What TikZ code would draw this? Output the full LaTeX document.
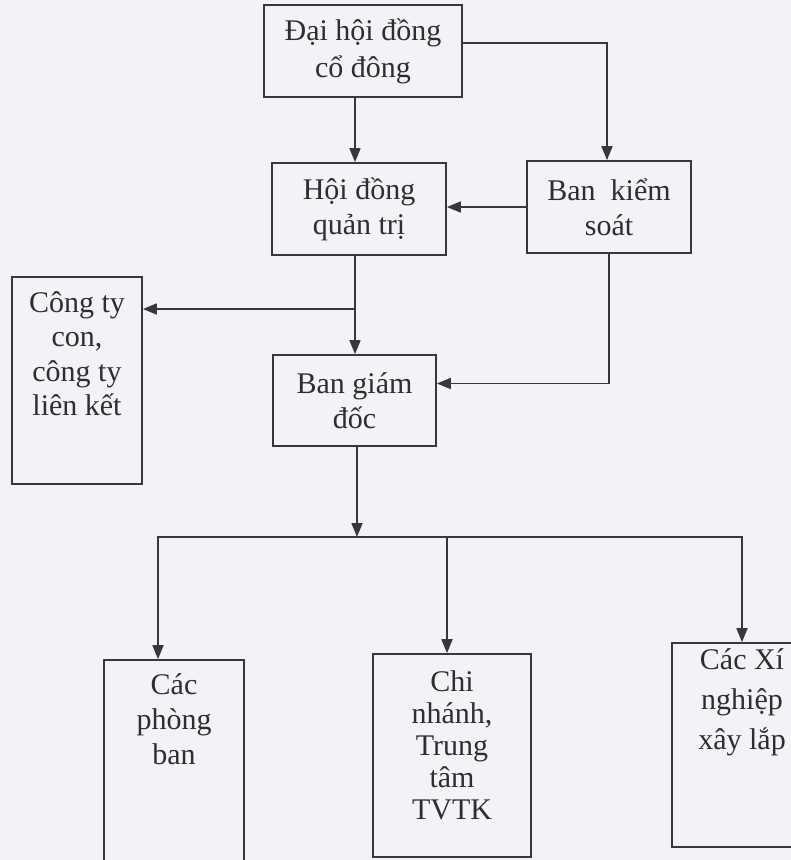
\documentclass[tikz,border=0pt]{standalone}
\usepackage{fontspec}
\setmainfont{Liberation Serif}
\usetikzlibrary{arrows.meta,calc}
\definecolor{bgc}{HTML}{F3F2F8}
\definecolor{ink}{HTML}{38383C}
\definecolor{txt}{HTML}{2E2E32}
\begin{document}
\begin{tikzpicture}[x=1pt,y=1pt,
  box/.style={draw=ink, line width=1.7pt, inner sep=0pt, text=txt, align=center,
              font=\fontsize{30}{35}\selectfont},
  lbl/.style={inner sep=0pt, text=txt, align=center, anchor=north},
  arr/.style={draw=ink, line width=1.7pt, -{Triangle[length=14pt,width=11pt]}},
  ln/.style={draw=ink, line width=1.7pt}]
\fill[bgc] (0,0) rectangle (791,-860);
\useasboundingbox (0,0) rectangle (791,-860);
\clip (0,0) rectangle (791,-860);

% boxes
\node[box, minimum width=198pt, minimum height=92pt, font=\fontsize{30}{37}\selectfont] (dh) at (363,-51) {Đại hội đồng\\cổ đông};
\node[box, minimum width=174pt, minimum height=92pt] (hq) at (359,-209) {Hội đồng\\quản trị};
\node[box, minimum width=164pt, minimum height=92pt] (bk) at (609,-207) {Ban\ \ kiểm\\soát};
\node[box, minimum width=163pt, minimum height=91pt] (bg) at (354.5,-400.5) {Ban giám\\đốc};

\node[box, minimum width=130pt, minimum height=207pt] (ct) at (77,-380.5) {};
\node[lbl, font=\fontsize{30}{34.5}\selectfont] (ctt) at ([yshift=-15pt]ct.north) {Công ty\\con,\\công ty\\liên kết};

\node[box, minimum width=140pt, minimum height=245pt] (cp) at (174,-782.5) {};
\node[lbl, font=\fontsize{30}{35}\selectfont] (cpt) at ([yshift=-14pt]cp.north) {Các\\phòng\\ban};

\node[box, minimum width=158pt, minimum height=203pt] (cn) at (452,-755.5) {};
\node[lbl, font=\fontsize{30}{32}\selectfont] (cnt) at ([yshift=-17pt]cn.north) {Chi\\nhánh,\\Trung\\tâm\\TVTK};

\node[box, minimum width=140pt, minimum height=204pt] (xn) at (742,-745) {};
\node[lbl, font=\fontsize{30}{40}\selectfont] (xnt) at ([yshift=-6pt]xn.north) {Các Xí\\nghiệp\\xây lắp};

% connectors
\draw[arr] ([xshift=-8pt]dh.south) -- ([xshift=-4pt]hq.north);
\draw[arr] ([yshift=8pt]dh.east) -| ([xshift=-2pt]bk.north);
\draw[arr] (bk.west) -- (bk.west -| hq.east);

\coordinate (hs) at ([xshift=-4pt]hq.south);
\coordinate (j1) at (hs |- 0,-309);
\draw[arr] (hs) -- (hs |- bg.north);
\draw[arr] (j1) -- (j1 -| ct.east);
\draw[arr] (bk.south) |- ([yshift=17pt]bg.east);

\coordinate (bs) at ([xshift=2.5pt]bg.south);
\coordinate (bus) at (bs |- 0,-537);
\coordinate (busL) at (158,-537);
\coordinate (busM) at (447,-537);
\coordinate (busR) at (742,-537);
\draw[arr] (bs) -- (bus);
\draw[arr] (bus) -| (busL |- cp.north);
\draw[arr] (bus) -| (busR |- xn.north);
\draw[arr] (busM) -- (busM |- cn.north);
\end{tikzpicture}
\end{document}
